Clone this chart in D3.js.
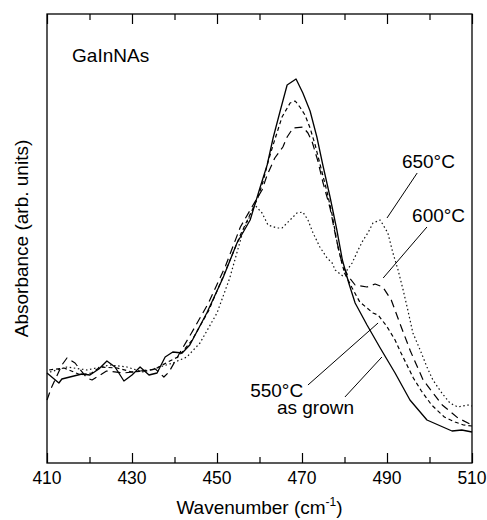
<!DOCTYPE html>
<html lang="en">
<head>
<meta charset="UTF-8">
<title>GaInNAs absorbance</title>
<style>
    body {
        margin: 0;
        padding: 0;
        background: #fff;
    }
    svg text {
        font-family: "Liberation Sans", Arial, sans-serif;
        fill: #000;
    }
</style>
</head>
<body>
<div id="chart"></div>
<script src="https://d3js.org/d3.v7.min.js"></script>
<script>
    // Wavenumber (cm-1) and absorbance (arb. units)
    const asGrownX = [410, 412.8, 413.5, 418.2, 420.1, 422.2, 424.1, 426, 428.1, 430, 431.9, 434, 435.9, 437.8, 439.6, 441.8, 443.6, 447.6, 451.4, 454.7, 457.8, 460.1, 461.8, 463.2, 464.8, 466.5, 468.6, 470.2, 471.9, 473.5, 474.9, 476.6, 478.2, 479.5, 481, 482.5, 485.3, 488.4, 491.9, 495.4, 499.4, 505.3, 507.6, 510];
    const asGrownY = [90, 80, 84, 89, 88, 94, 102, 96, 82, 88, 96, 88, 90, 106, 111, 110, 118, 150, 185, 220, 243, 275, 298, 325, 351, 378, 384, 370, 352, 326, 298, 266, 233, 203, 180, 160, 138, 115, 90, 63, 43, 32, 33, 31];

    const a550X = [410.5, 414, 418, 420.5, 422.5, 426.5, 430, 433, 435.5, 438.4, 440.8, 444, 448, 452, 455.5, 458.5, 459.6, 460.8, 462, 463.2, 465.3, 467.2, 468.4, 469.5, 470.7, 471.9, 473.1, 474.7, 475.9, 477.1, 478.5, 480, 481.8, 483.6, 486.7, 487.9, 489.9, 491.9, 493.3, 496.2, 498.1, 500.5, 503.5, 506, 508, 510];
    const a550Y = [93, 95, 88, 90, 96, 95, 91, 92, 94, 101, 106, 122, 152, 192, 228, 255, 265, 281, 301, 318, 346, 360, 362, 356, 348, 335, 318, 291, 271, 248, 215, 190, 175, 161, 150, 148, 137, 123, 110, 85, 72, 58, 46, 41, 38, 37];

    const a600X = [410, 411, 413.5, 414.7, 416.6, 417.5, 419.4, 420.6, 424, 428, 432, 435.5, 437.5, 438.7, 441.5, 444, 448, 452, 455.5, 458.9, 460.6, 461.8, 463.6, 465.5, 466.5, 467.9, 470.2, 471.4, 472.4, 473.8, 474.9, 476.6, 478, 479.5, 481, 482.5, 485.3, 487.2, 489, 491, 493, 495.5, 498.5, 503, 506.7, 510];
    const a600Y = [63, 75, 98, 105, 100, 95, 85, 83, 92, 90, 92, 94, 86, 91, 112, 130, 160, 197, 236, 261, 273, 288, 305, 316, 326, 335, 336, 330, 321, 301, 281, 255, 225, 198, 186, 178, 176, 179, 176, 163, 140, 112, 83, 58, 45, 38];

    const a650X = [410.7, 414.7, 419.4, 424.8, 428.8, 432.6, 436.5, 439.6, 442.9, 446, 450, 453, 456, 458.9, 460.6, 462, 464.1, 465.3, 467.2, 468.8, 470.2, 471.4, 472.6, 474.2, 475.9, 477.1, 477.8, 479.6, 481.8, 483.2, 484.4, 485.5, 486.7, 488.4, 490.2, 491.4, 492.6, 493.8, 494.9, 496.1, 497.8, 499.4, 500.8, 502.9, 504.8, 506.7, 509.1, 510];
    const a650Y = [91, 96, 93, 98, 96, 91, 96, 100, 106, 120, 150, 185, 230, 258, 250, 238, 235, 235, 243, 250, 251, 243, 230, 216, 205, 200, 193, 187, 200, 213, 223, 230, 240, 243, 230, 210, 193, 173, 153, 130, 113, 96, 83, 70, 60, 56, 58, 57];

    const xTicks = [410, 420, 430, 440, 450, 460, 470, 480, 490, 500, 510];
    const xTickLabels = [410, 430, 450, 470, 490, 510];

    // label text, label position, leader start, leader end (data units)
    const labelText = ["650\u00B0C", "600\u00B0C", "550\u00B0C", "as grown"];
    const labelPos = [[493.5, 295], [495.9, 241], [457.8, 66], [464.1, 49]];
    const leaderFrom = [[497.1, 290], [499.4, 236], [471.4, 78], [480.1, 66]];
    const leaderTo = [[490, 245], [489.1, 185], [487.9, 140], [488.8, 106]];

    const width = 487, height = 520;
    const margin = { top: 14, right: 15, bottom: 57, left: 47 };

    const svg = d3.select('#chart')
        .append('svg')
        .attr('width', width)
        .attr('height', height);

    const x = d3.scaleLinear().domain([410, 510]).range([margin.left, width - margin.right]);
    const y = d3.scaleLinear().domain([0, 449]).range([height - margin.bottom, margin.top]);

    const line = d3.line().x(d => x(d[0])).y(d => y(d[1]));

    const series = [
        { xs: asGrownX, ys: asGrownY, dash: null, width: 1.3, color: '#000' },
        { xs: a550X, ys: a550Y, dash: '4,3', width: 1.2, color: '#000' },
        { xs: a600X, ys: a600Y, dash: '8,5', width: 1.2, color: '#000' },
        { xs: a650X, ys: a650Y, dash: '1.5,2.6', width: 1.2, color: '#111' }
    ];

    series.forEach(s => {
        svg.append('path')
            .datum(d3.zip(s.xs, s.ys))
            .attr('fill', 'none')
            .attr('stroke', s.color)
            .attr('stroke-width', s.width)
            .attr('stroke-dasharray', s.dash)
            .attr('stroke-linejoin', 'round')
            .attr('d', line);
    });

    // axes: ticks point inward on top and bottom, no ticks on the sides
    const tickLen = d => xTickLabels.includes(d) ? 10 : 6;
    const bottomAxis = svg.append('g')
        .attr('transform', `translate(0,${y(0)})`)
        .call(d3.axisBottom(x).tickValues(xTicks).tickSize(0).tickFormat(''));
    bottomAxis.select('.domain').remove();
    bottomAxis.selectAll('.tick line').attr('y2', d => -tickLen(d)).attr('stroke', '#000').attr('stroke-width', 1.2);

    const topAxis = svg.append('g')
        .attr('transform', `translate(0,${y(449)})`)
        .call(d3.axisTop(x).tickValues(xTicks).tickSize(0).tickFormat(''));
    topAxis.select('.domain').remove();
    topAxis.selectAll('.tick line').attr('y2', d => tickLen(d)).attr('stroke', '#000').attr('stroke-width', 1.2);

    svg.append('g')
        .selectAll('text')
        .data(xTickLabels)
        .enter().append('text')
        .attr('x', d => x(d))
        .attr('y', y(0) + 21)
        .attr('text-anchor', 'middle')
        .attr('font-size', '17.5px')
        .text(d => d);

    svg.append('rect')
        .attr('x', x(410))
        .attr('y', y(449))
        .attr('width', x(510) - x(410))
        .attr('height', y(0) - y(449))
        .attr('fill', 'none')
        .attr('stroke', '#000')
        .attr('stroke-width', 1.3);

    // axis titles
    const xt = svg.append('text')
        .attr('x', (x(410) + x(510)) / 2)
        .attr('y', 514)
        .attr('text-anchor', 'middle')
        .attr('font-size', '19px');
    xt.append('tspan').text('Wavenumber (cm');
    xt.append('tspan').attr('font-size', '12px').attr('dy', -8).text('-1');
    xt.append('tspan').attr('dy', 8).text(')');

    svg.append('text')
        .attr('transform', `translate(28,${(y(0) + y(449)) / 2}) rotate(-90)`)
        .attr('text-anchor', 'middle')
        .attr('font-size', '19px')
        .text('Absorbance (arb. units)');

    svg.append('text')
        .attr('x', x(415.9))
        .attr('y', y(401))
        .attr('font-size', '19px')
        .text('GaInNAs');

    // labels with leader lines
    labelText.forEach((t, i) => {
        svg.append('text')
            .attr('x', x(labelPos[i][0]))
            .attr('y', y(labelPos[i][1]))
            .attr('font-size', '19px')
            .text(t);
        svg.append('line')
            .attr('x1', x(leaderFrom[i][0]))
            .attr('y1', y(leaderFrom[i][1]))
            .attr('x2', x(leaderTo[i][0]))
            .attr('y2', y(leaderTo[i][1]))
            .attr('stroke', '#000')
            .attr('stroke-width', 1);
    });
</script>
</body>
</html>
